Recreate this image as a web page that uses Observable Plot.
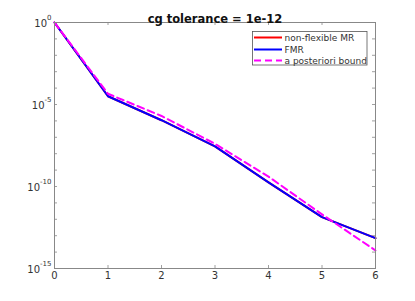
<!DOCTYPE html>
<html>
<head>
<meta charset="utf-8">
<script src="https://cdn.jsdelivr.net/npm/d3@7"></script>
<script src="https://cdn.jsdelivr.net/npm/@observablehq/plot@0.6"></script>
<style>
  html, body { margin: 0; padding: 0; background: white; }
  #chart svg { display: block; }
</style>
</head>
<body>
<div id="chart"></div>
<script>
// ---- data ----
const title = "cg tolerance = 1e-12";
const iterations = [0, 1, 2, 3, 4, 5, 6];
const nonFlexibleMR = [1, 3.2e-5, 1.1e-6, 2.8e-8, 1.8e-10, 1.35e-12, 7.1e-14];
const fmr = [1, 3.2e-5, 1.1e-6, 2.8e-8, 1.8e-10, 1.35e-12, 7.1e-14];
const aPosterioriBound = [1, 4.5e-5, 2.0e-6, 4.0e-8, 4.0e-10, 2.0e-12, 1.26e-14];
const seriesNames = ["non-flexible MR", "FMR", "a posteriori bound"];
const seriesColors = ["#ff0000", "#0000ff", "#ff00ff"];
const xTicks = [0, 1, 2, 3, 4, 5, 6];
const yTicks = [1, 1e-1, 1e-2, 1e-3, 1e-4, 1e-5, 1e-6, 1e-7, 1e-8, 1e-9, 1e-10, 1e-11, 1e-12, 1e-13, 1e-14, 1e-15];
const yLabelExponents = ["0", "-5", "-10", "-15"];

const rows = (vals) => iterations.map((t, i) => ({t, v: vals[i]}));
const dataMR = rows(nonFlexibleMR);
const dataFMR = rows(fmr);
const dataBound = rows(aPosterioriBound);

const W = 415, H = 301, mL = 54, mR = 40, mT = 22, mB = 33;
const frameW = W - mL - mR, frameH = H - mT - mB;
const axisColor = "#888888";
const textColor = "#333333";
const font = "DejaVu Sans, sans-serif";
const tickLen = 3;

// approximate widths of exponent strings at 7px DejaVu Sans
const expWidth = (s) => [...s].reduce((w, c) => w + (c === "-" ? 2.5 : 4.45), 0);

const yLabelMarks = yLabelExponents.flatMap(e => [
  Plot.text([e], {y: d => Math.pow(10, +d), frameAnchor: "left", text: d => d,
    textAnchor: "end", dx: -3, dy: -5, fontSize: 7, fill: textColor}),
  Plot.text([e], {y: d => Math.pow(10, +d), frameAnchor: "left", text: () => "10",
    textAnchor: "end", dx: -3 - expWidth(e), dy: 1, fontSize: 10, fill: textColor})
]);

const chart = Plot.plot({
  width: W, height: H,
  marginLeft: mL, marginRight: mR, marginTop: mT, marginBottom: mB,
  style: {fontFamily: font, background: "white"},
  x: {domain: [0, 6], axis: null},
  y: {type: "log", domain: [1e-15, 1], axis: null},
  marks: [
    // inward ticks
    Plot.ruleX(xTicks, {x: d => d, insetTop: frameH - tickLen, stroke: axisColor, strokeWidth: 0.8}),
    Plot.ruleX(xTicks, {x: d => d, insetBottom: frameH - tickLen, stroke: axisColor, strokeWidth: 0.8}),
    Plot.ruleY(yTicks, {y: d => d, insetRight: frameW - tickLen, stroke: axisColor, strokeWidth: 0.8}),
    Plot.ruleY(yTicks, {y: d => d, insetLeft: frameW - tickLen, stroke: axisColor, strokeWidth: 0.8}),
    // series
    Plot.line(dataMR, {x: "t", y: "v", stroke: seriesColors[0], strokeWidth: 2}),
    Plot.line(dataFMR, {x: "t", y: "v", stroke: seriesColors[1], strokeWidth: 2}),
    Plot.line(dataBound, {x: "t", y: "v", stroke: seriesColors[2], strokeWidth: 2, strokeDasharray: "7,4"}),
    Plot.frame({stroke: axisColor, strokeWidth: 1}),
    // x tick labels
    Plot.text(xTicks, {x: d => d, frameAnchor: "bottom", dy: 10, text: d => String(d), fontSize: 10, fill: textColor}),
    ...yLabelMarks,
    // title
    Plot.text([title], {frameAnchor: "top", text: d => d, dy: -8, fontSize: 11.5, fontWeight: "bold", fill: "#111"})
  ]
});

// legend (appended in the chart's SVG)
const svg = d3.select(chart);
const lg = svg.append("g").attr("font-family", font).attr("font-size", 9).attr("text-anchor", "start");
lg.append("rect").attr("x", 252.5).attr("y", 31.5).attr("width", 114.5).attr("height", 33.5)
  .attr("fill", "white").attr("stroke", "#555").attr("stroke-width", 0.8);
const rowY = [37.5, 49.5, 60.5];
seriesNames.forEach((name, i) => {
  lg.append("line").attr("x1", 254).attr("x2", 282).attr("y1", rowY[i]).attr("y2", rowY[i])
    .attr("stroke", seriesColors[i]).attr("stroke-width", 2)
    .attr("stroke-dasharray", i === 2 ? "7,4" : null);
  lg.append("text").attr("x", 284.5).attr("y", rowY[i]).attr("dy", "0.35em")
    .attr("text-anchor", "start").attr("fill", textColor).text(name);
});

document.getElementById("chart").appendChild(chart);
</script>
</body>
</html>
